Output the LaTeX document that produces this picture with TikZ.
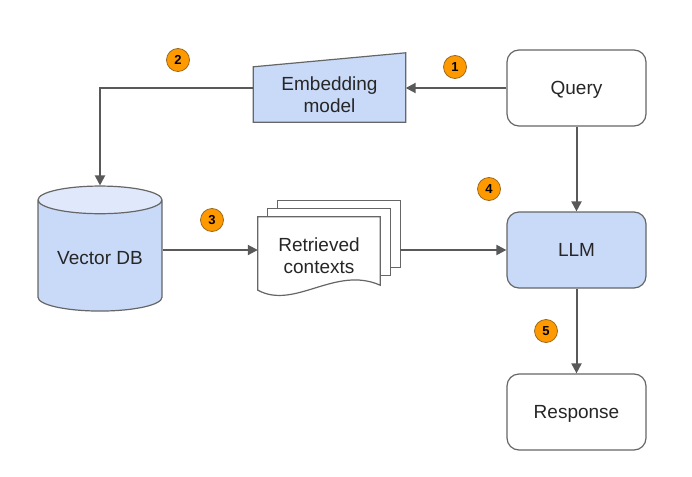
\documentclass[tikz,border=0pt]{standalone}
\usepackage{fontspec}
\setmainfont{Liberation Sans}
\usetikzlibrary{shapes.geometric, arrows.meta, backgrounds}
\definecolor{boxblue}{HTML}{C9DAF8}
\definecolor{boxline}{HTML}{666666}
\definecolor{lineg}{HTML}{595959}
\definecolor{steporange}{HTML}{FF9900}
\definecolor{stepline}{HTML}{9C6A1E}
\tikzstyle{block} = [rectangle, rounded corners=12pt, minimum width=139pt, minimum height=76pt, text height=13.6pt, text depth=0pt, text centered, draw=boxline, line width=1.2pt, fill=white, text=black!85, font=\fontsize{19}{22}\selectfont]
\tikzstyle{llmblock} = [block, fill=boxblue]
\tikzstyle{manual} = [rectangle, minimum width=152pt, minimum height=55pt, align=center, text=black!85, font=\fontsize{19}{22}\selectfont]
\tikzstyle{db} = [cylinder, shape border rotate=90, aspect=0.3, minimum width=124pt, minimum height=125pt, text height=13.6pt, text depth=0pt, draw=boxline, line width=1.2pt, cylinder uses custom fill, cylinder body fill=boxblue, cylinder end fill=boxblue!60, text=black!85, font=\fontsize{19}{22}\selectfont]
\tikzstyle{docs} = [rectangle, minimum width=122pt, minimum height=78pt, align=center, text=black!85, font=\fontsize{19}{22}\selectfont]
\tikzstyle{page} = [draw=boxline, line width=1.2pt, fill=white]
\tikzstyle{stepnum} = [circle, minimum size=23pt, inner sep=0pt, fill=steporange, draw=stepline, line width=0.8pt, font=\fontsize{13}{15}\selectfont\bfseries]
\tikzstyle{arrow} = [line width=2pt, draw=lineg, ->, >={Triangle[length=10pt,width=10pt]}]

\begin{document}
\begin{tikzpicture}[x=1pt, y=-1pt, node distance=162pt]
		\useasboundingbox (0,0) rectangle (692,476);
		\node (query) [block] at (576.5,88) {Query};
		\node (llm) [llmblock, below of = query] {LLM};
		\node (resp) [block, below of = llm] {Response};
		\node (emb) [manual] at (329.5,94.5) {Embedding\\model};
		\node (vdb) [db] at (100,258) {Vector DB};
		\node (ctx) [docs] at (319,256) {Retrieved\\contexts};
		\coordinate (ctxback) at ([xshift=20pt]ctx.east);
		% shapes behind the texts
		\begin{pgfonlayer}{background}
		\draw [fill=boxblue, draw=boxline, line width=1.2pt] (emb.south west) -- (emb.north west) -- ([yshift=14pt]emb.north east) -- (emb.south east) -- cycle;
		\draw [page] ([xshift=20pt,yshift=16pt]ctx.north west) rectangle ([xshift=20pt,yshift=28pt]ctx.south east);
		\draw [page] ([xshift=10pt,yshift=8pt]ctx.north west) rectangle ([xshift=10pt,yshift=20pt]ctx.south east);
		\draw [page] (ctx.north west) -- (ctx.north east) -- ([yshift=10pt]ctx.south east) .. controls +(-45,-20) and +(37,20) .. ([yshift=5pt]ctx.south west) -- cycle;
		\end{pgfonlayer}
		% steps
		\node (s1) [stepnum] at (455,67) {1};
		\node (s2) [stepnum] at (178,60) {2};
		\node (s3) [stepnum] at (212,220) {3};
		\node (s4) [stepnum] at (489,189) {4};
		\node (s5) [stepnum] at (546,331) {5};
		\draw [arrow] (query.west) -- (query.west -| emb.east);
		\draw [arrow] (emb.west |- query.west) -| (vdb.north);
		\draw [arrow] (vdb.east |- 0,250) -- (ctx.west |- 0,250);
		\draw [arrow] (ctxback |- llm.west) -- (llm.west);
		\draw [arrow] (query) -- (llm);
		\draw [arrow] (llm) -- (resp);
	\end{tikzpicture}
\end{document}
